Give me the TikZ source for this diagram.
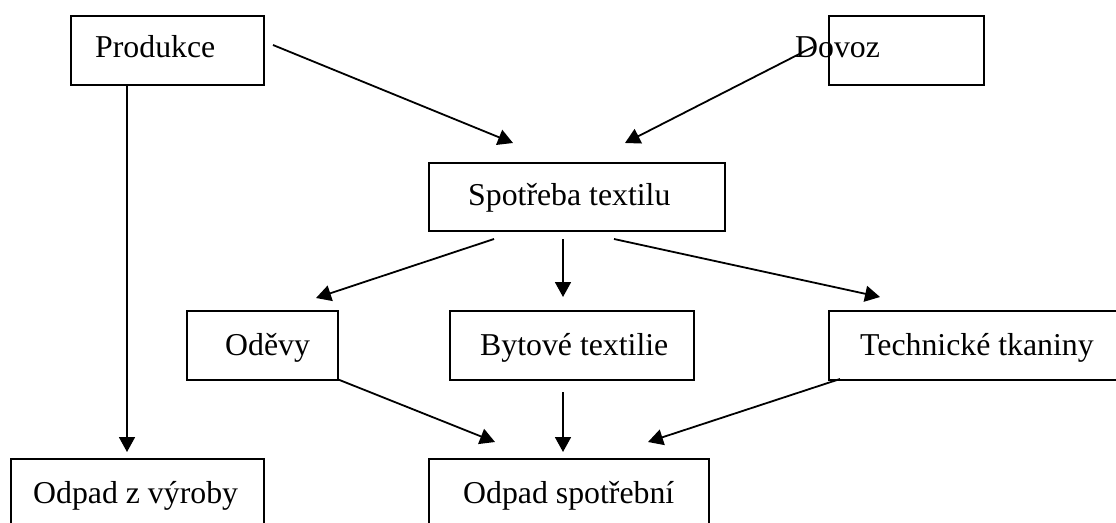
\documentclass[tikz,border=0pt]{standalone}
\usepackage{fontspec}
\setmainfont{Liberation Serif}
\usetikzlibrary{arrows.meta}
\begin{document}
\begin{tikzpicture}[x=1pt,y=-1pt,
  box/.style={draw,line width=1.8pt,inner sep=0pt,anchor=north west},
  lbl/.style={anchor=base west,inner sep=0pt,font=\fontsize{31.8}{38}\selectfont},
  conn/.style={line width=1.8pt,-{Triangle[length=15pt,width=16pt]}}]
\useasboundingbox (0,0) rectangle (1116,522);
\clip (0,0) rectangle (1116,522);
% boxes
\node[box,minimum width=193pt,minimum height=69pt] (prodbox) at (70,15) {};
\node[box,minimum width=155pt,minimum height=69pt] (dovbox) at (828,15) {};
\node[box,minimum width=296pt,minimum height=68pt] (spobox) at (428,162) {};
\node[box,minimum width=151pt,minimum height=69pt] (odebox) at (186,310) {};
\node[box,minimum width=244pt,minimum height=69pt] (bytbox) at (449,310) {};
\node[box,minimum width=320pt,minimum height=69pt] (tecbox) at (828,310) {};
\node[box,minimum width=253pt,minimum height=100pt] (vyrbox) at (10,458) {};
\node[box,minimum width=280pt,minimum height=100pt] (spbbox) at (428,458) {};
% labels
\node[lbl] (prod) at (95,57) {Produkce};
\node[lbl] (dov) at (795,57) {Dovoz};
\node[lbl] (spo) at (468,205) {Spotřeba textilu};
\node[lbl] (ode) at (225,355) {Oděvy};
\node[lbl] (byt) at (480,355) {Bytové textilie};
\node[lbl] (tec) at (860,355) {Technické tkaniny};
\node[lbl] (vyr) at (33,503) {Odpad z výroby};
\node[lbl] (spb) at (463,503) {Odpad spotřební};
% connector end points
\coordinate (p1) at (273,45);
\coordinate (p1t) at (513,143);
\coordinate (d1) at (813,47);
\coordinate (d1t) at (625,143);
\coordinate (pv) at (127,84);
\coordinate (pvt) at (127,452);
\coordinate (s1) at (494,239);
\coordinate (s1t) at (316,298);
\coordinate (s2) at (563,239);
\coordinate (s2t) at (563,297);
\coordinate (s3) at (614,239);
\coordinate (s3t) at (880,297);
\coordinate (o1) at (337,379);
\coordinate (o1t) at (495,442);
\coordinate (b1) at (563,392);
\coordinate (b1t) at (563,452);
\coordinate (t1) at (840,379);
\coordinate (t1t) at (648,442);
% connectors
\draw[conn] (p1) -- (p1t);
\draw[conn] (d1) -- (d1t);
\draw[conn] (pv) -- (pvt);
\draw[conn] (s1) -- (s1t);
\draw[conn] (s2) -- (s2t);
\draw[conn] (s3) -- (s3t);
\draw[conn] (o1) -- (o1t);
\draw[conn] (b1) -- (b1t);
\draw[conn] (t1) -- (t1t);
\end{tikzpicture}
\end{document}
